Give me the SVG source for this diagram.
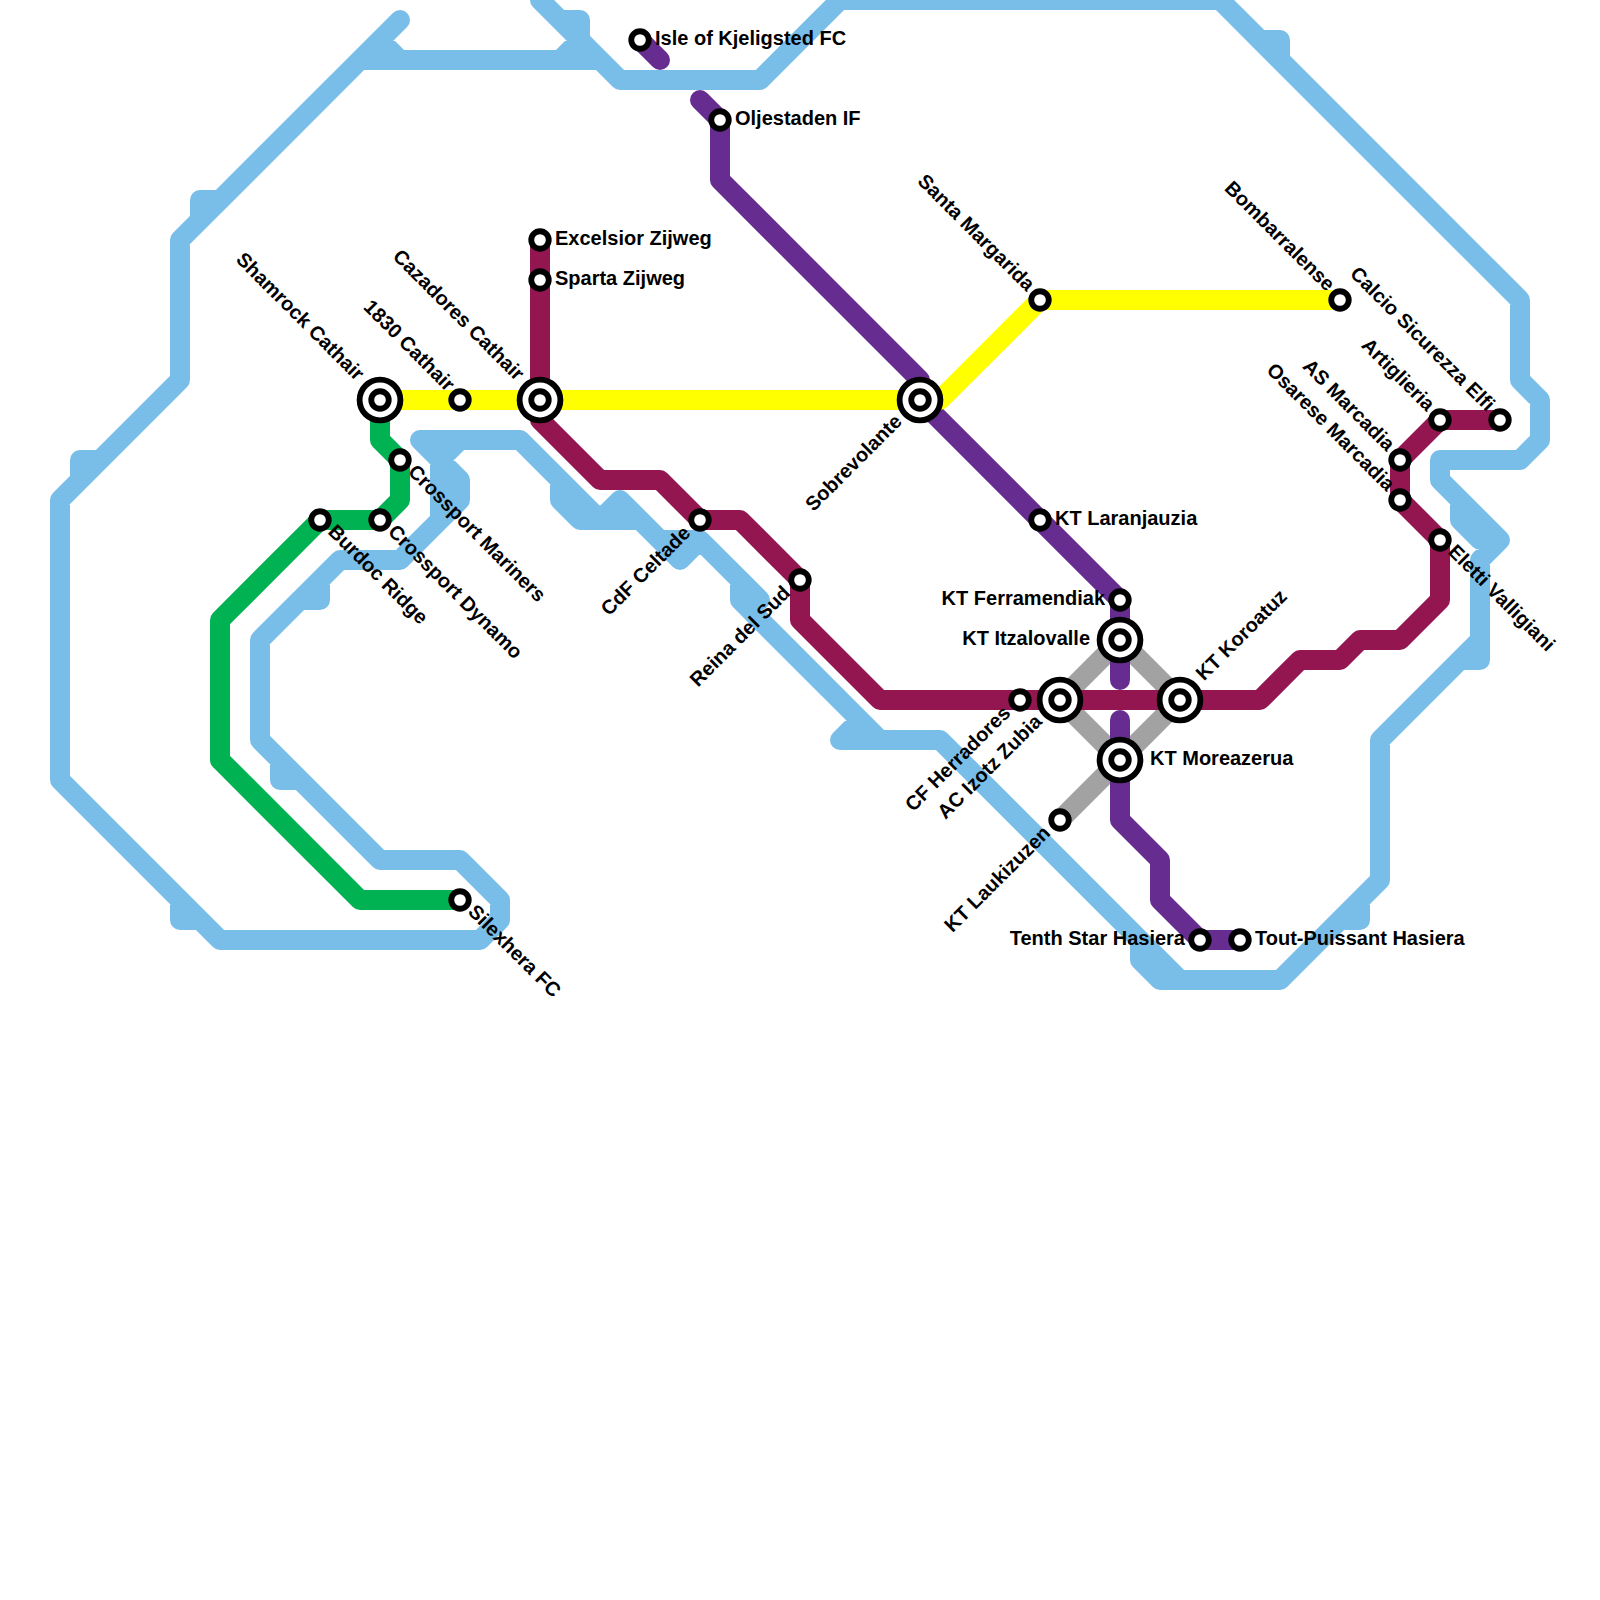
<svg xmlns="http://www.w3.org/2000/svg" width="1600" height="1600" viewBox="0 0 1600 1600">
<style>
.l{fill:none;stroke-width:20;stroke-linejoin:round;stroke-linecap:round}
.s{fill:#fff;stroke:#000;stroke-width:5.83}
.t{font-family:"Liberation Sans",Arial,sans-serif;font-weight:700;font-size:20px;fill:#000}
.e{text-anchor:end}
</style>
<defs>
<g id="st"><circle class="s" r="8.75"/></g>
<g id="ic"><circle class="s" r="20.4"/><circle class="s" r="8.75"/></g>
</defs>
<rect width="1600" height="1600" fill="#fff"/>
<g id="connectors">
<path class="l" stroke="#79bde9" d="M400 20L180 240L180 380L60 500L60 780L220 940L480 940L500 920L500 900L460 860L380 860L260 740L260 640L340 560L400 560L440 520L440 460L460 440L520 440L600 520L580 520L560 500L560 480M420 440L460 480L460 500L440 520M420 440L520 440M600 520L620 500L680 560L700 540L660 540M580 520L640 520L680 560M700 540L760 600L740 600M740 580L740 600L880 740M860 720L840 740L940 740L1180 980M1140 940L1140 960L1160 980L1280 980L1380 880L1380 740L1480 640L1480 560L1500 540L1440 480L1440 460L1520 460L1540 440L1540 400L1520 380L1520 300L1220 0L840 0L760 80L620 80L540 0M1460 500L1460 520L1480 540M1460 660L1480 660L1480 640M1360 900L1360 920L1340 920M1260 40L1280 40L1280 60M360 60L600 60M380 40L400 60M560 60L580 40L580 20L560 20M200 220L200 200L220 200M80 480L80 460L100 460M320 580L320 600L300 600M280 760L280 780L300 780M180 900L180 920L200 920"/>
<path class="l" stroke="#a2a2a2" d="M1120 640L1060 700L1120 760L1180 700ZM1120 760L1060 820"/>
<path class="l" stroke="#662c90" d="M640 40L660 60M700 100L720 120L720 180L920 380L920 400L1120 600L1120 680M1120 720L1120 820L1160 860L1160 900L1200 940L1240 940"/>
<path class="l" stroke="#941651" d="M540 240L540 420L600 480L660 480L700 520L740 520L800 580L800 620L880 700L1260 700L1300 660L1340 660L1360 640L1400 640L1440 600L1440 540L1400 500L1400 460L1440 420L1500 420"/>
<path class="l" stroke="#00b251" d="M380 400L380 440L400 460L400 500L380 520L320 520L220 620L220 760L360 900L460 900"/>
<path class="l" stroke="#ffff00" d="M380 400L940 400L1040 300L1340 300"/>
</g>
<g id="n1"><use href="#ic" x="380" y="400"/><text class="t e" transform="translate(380 400) rotate(45)" x="-30" y="4">Shamrock Cathair</text></g>
<g id="n2"><use href="#st" x="460" y="400"/><text class="t e" transform="translate(460 400) rotate(45)" x="-15" y="4">1830 Cathair</text></g>
<g id="n3"><use href="#ic" x="540" y="400"/><text class="t e" transform="translate(540 400) rotate(45)" x="-30" y="4">Cazadores Cathair</text></g>
<g id="n4"><use href="#ic" x="920" y="400"/><text class="t e" transform="translate(920 400) rotate(-45)" x="-28" y="4">Sobrevolante</text></g>
<g id="n5"><use href="#st" x="540" y="240"/><text class="t" x="555" y="245">Excelsior Zijweg</text></g>
<g id="n6"><use href="#st" x="540" y="280"/><text class="t" x="555" y="285">Sparta Zijweg</text></g>
<g id="n7"><use href="#st" x="640" y="40"/><text class="t" x="655" y="45">Isle of Kjeligsted FC</text></g>
<g id="n8"><use href="#st" x="720" y="120"/><text class="t" x="735" y="125">Oljestaden IF</text></g>
<g id="n9"><use href="#st" x="1040" y="300"/><text class="t e" transform="translate(1040 300) rotate(45)" x="-15" y="4">Santa Margarida</text></g>
<g id="n10"><use href="#st" x="1340" y="300"/><text class="t e" transform="translate(1340 300) rotate(45)" x="-15" y="4">Bombarralense</text></g>
<g id="n11"><use href="#st" x="1500" y="420"/><text class="t e" transform="translate(1500 420) rotate(45)" x="-15" y="4">Calcio Sicurezza Elfi</text></g>
<g id="n12"><use href="#st" x="1440" y="420"/><text class="t e" transform="translate(1440 420) rotate(45)" x="-15" y="4">Artiglieria</text></g>
<g id="n13"><use href="#st" x="1400" y="460"/><text class="t e" transform="translate(1400 460) rotate(45)" x="-15" y="4">AS Marcadia</text></g>
<g id="n14"><use href="#st" x="1400" y="500"/><text class="t e" transform="translate(1400 500) rotate(45)" x="-15" y="4">Osarese Marcadia</text></g>
<g id="n15"><use href="#st" x="1440" y="540"/><text class="t" transform="translate(1440 540) rotate(45)" x="14" y="4">Eletti Valligiani</text></g>
<g id="n16"><use href="#st" x="400" y="460"/><text class="t" transform="translate(400 460) rotate(45)" x="14" y="4">Crossport Mariners</text></g>
<g id="n17"><use href="#st" x="380" y="520"/><text class="t" transform="translate(380 520) rotate(45)" x="14" y="4">Crossport Dynamo</text></g>
<g id="n18"><use href="#st" x="320" y="520"/><text class="t" transform="translate(320 520) rotate(45)" x="14" y="4">Burdoc Ridge</text></g>
<g id="n19"><use href="#st" x="460" y="900"/><text class="t" transform="translate(460 900) rotate(45)" x="14" y="4">Silexhera FC</text></g>
<g id="n20"><use href="#st" x="700" y="520"/><text class="t e" transform="translate(700 520) rotate(-45)" x="-16" y="4">CdF Celtade</text></g>
<g id="n21"><use href="#st" x="800" y="580"/><text class="t e" transform="translate(800 580) rotate(-45)" x="-16" y="4">Reina del Sud</text></g>
<g id="n22"><use href="#st" x="1040" y="520"/><text class="t" x="1055" y="525">KT Laranjauzia</text></g>
<g id="n23"><use href="#st" x="1120" y="600"/><text class="t e" x="1105" y="605">KT Ferramendiak</text></g>
<g id="n24"><use href="#ic" x="1120" y="640"/><text class="t e" x="1090" y="645">KT Itzalovalle</text></g>
<g id="n25"><use href="#st" x="1020" y="700"/><text class="t e" transform="translate(1020 700) rotate(-45)" x="-16" y="4">CF Herradores</text></g>
<g id="n26"><use href="#ic" x="1060" y="700"/><text class="t e" transform="translate(1060 700) rotate(-45)" x="-28" y="4">AC Izotz Zubia</text></g>
<g id="n27"><use href="#ic" x="1180" y="700"/><text class="t" transform="translate(1180 700) rotate(-45)" x="30" y="4">KT Koroatuz</text></g>
<g id="n28"><use href="#ic" x="1120" y="760"/><text class="t" x="1150" y="765">KT Moreazerua</text></g>
<g id="n29"><use href="#st" x="1060" y="820"/><text class="t e" transform="translate(1060 820) rotate(-45)" x="-16" y="4">KT Laukizuzen</text></g>
<g id="n30"><use href="#st" x="1200" y="940"/><text class="t e" x="1185" y="945">Tenth Star Hasiera</text></g>
<g id="n31"><use href="#st" x="1240" y="940"/><text class="t" x="1255" y="945">Tout-Puissant Hasiera</text></g>
</svg>
